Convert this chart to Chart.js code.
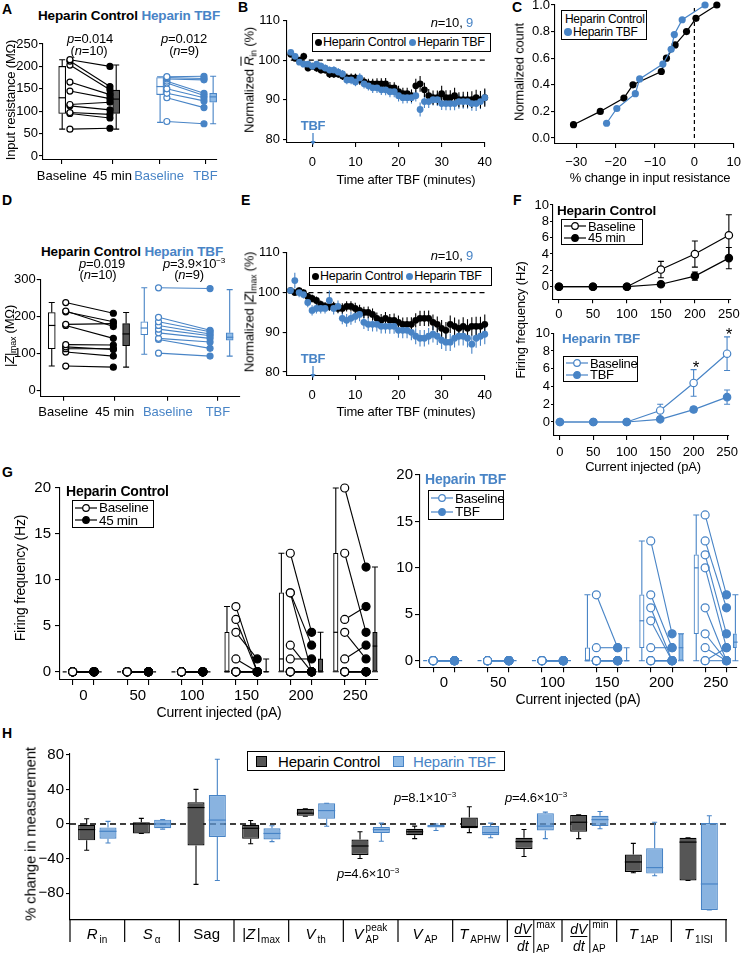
<!DOCTYPE html>
<html><head><meta charset="utf-8"><title>Heparin TBF figure</title>
<script src="https://cdn.jsdelivr.net/npm/chart.js@4.4.1/dist/chart.umd.min.js"></script>
<style>
html,body{margin:0;padding:0;background:#fff}
body{width:747px;height:954px;position:relative;overflow:hidden;font-family:'Liberation Sans',Arial,Helvetica,sans-serif;color:#000}
canvas{position:absolute}
.t{position:absolute;white-space:nowrap;line-height:1;font-size:13px;letter-spacing:-0.2px}
.t sub{font-size:0.68em;vertical-align:-0.3em;line-height:0}
.t sup{font-size:0.62em;vertical-align:0.55em;line-height:0}
.lg{position:absolute;border:1px solid #000;background:#fff;white-space:nowrap;line-height:1;box-sizing:border-box}
.lg .row{display:flex;align-items:center}
.dot{display:inline-block;border-radius:50%}
</style></head>
<body>
<script>
/* ================= DATA ================= */
/* Panel A : input resistance (MOhm) */
var catsAD = ['Baseline', '45 min', 'Baseline', 'TBF'];
var yTicksA = [0, 50, 100, 150, 200, 250];
var aCtrlBase = [215, 212, 203, 165, 145, 115, 112, 97, 95, 60];
var aCtrl45 = [200, 155, 148, 137, 128, 120, 103, 93, 85, 62];
var aTbfBase = [177, 175, 172, 167, 163, 150, 140, 130, 77];
var aTbfAfter = [178, 173, 170, 140, 135, 130, 123, 108, 72];
var aBoxes = [[60, 95, 130, 200, 215], [60, 95, 127, 147, 203], [75, 137, 155, 175, 177], [72, 120, 132, 140, 178]];

/* Panels B / E : time course */
var timeMin = [-5, -4, -3, -2, -1, 0, 1, 2, 3, 4, 5, 6, 7, 8, 9, 10, 11, 12, 13, 14, 15, 16, 17, 18, 19, 20, 21, 22, 23, 24, 25, 26, 27, 28, 29, 30, 31, 32, 33, 34, 35, 36, 37, 38, 39, 40];
var xTicksTime = [0, 10, 20, 30, 40];
var yTicksNorm = [80, 90, 100, 110];
var bCtrl = [101.5, 100.5, 100, 101, 98, 98.5, 98, 97.5, 97.5, 96.5, 96.5, 96.5, 96, 95.5, 95.5, 95.5, 95, 94.5, 94, 94, 94, 94, 94, 93, 93, 92, 91.5, 91.5, 91, 93.5, 94, 92.5, 91, 90.5, 90.5, 91.5, 90.5, 90.5, 91, 90, 90, 90, 90, 90.5, 90, 90.5];
var bCtrlErr = [0.7, 0.7, 0.8, 0.9, 0.8, 0.8, 0.9, 0.9, 0.9, 1, 1, 1, 1, 1.1, 1.1, 1.1, 1.2, 1.2, 1.3, 1.3, 1.4, 1.4, 1.5, 1.5, 1.4, 1.5, 1.5, 1.5, 1.6, 1.8, 2, 1.8, 1.7, 1.8, 1.8, 2, 1.9, 1.9, 2, 1.9, 2, 2, 2.1, 2, 2.2, 2.3];
var bTbf = [102, 101, 99.5, 99, 99, 98.5, 99, 98.5, 98, 97.5, 97.5, 97, 96.5, 95, 95, 94.5, 95.5, 94, 93.5, 93, 93, 92.5, 92.5, 92, 92, 91, 90.5, 90.5, 90.5, 91, 87.5, 89.5, 89.5, 90, 90, 89, 89, 89, 89, 89.5, 89.5, 89.5, 89, 89, 89.5, 90.5];
var bTbfErr = [0.6, 0.6, 0.7, 0.7, 0.8, 0.8, 0.8, 0.9, 0.9, 0.9, 1, 1, 1, 1.1, 1.1, 1.1, 1.2, 1.2, 1.2, 1.3, 1.3, 1.3, 1.4, 1.4, 1.4, 1.5, 1.5, 1.4, 1.5, 1.5, 1.8, 1.6, 1.6, 1.5, 1.6, 1.6, 1.7, 1.7, 1.7, 1.8, 1.8, 1.8, 1.8, 1.9, 1.9, 2];
var eCtrl = [100.5, 100, 100.5, 100, 99, 98.5, 98, 97, 96.5, 96.5, 96.5, 96, 96, 96.5, 96.5, 96, 95.5, 95, 95, 94.5, 93.5, 93, 93.5, 93, 93, 92.5, 92, 92, 92, 93, 93.5, 93.5, 93.5, 92.5, 92, 91, 90.5, 92, 91.5, 91, 91.5, 91, 91.5, 91.5, 91.5, 92];
var eCtrlErr = [0.6, 0.7, 0.8, 0.8, 0.9, 1, 1, 1, 1.1, 1.1, 1.2, 1.2, 1.3, 1.3, 1.3, 1.4, 1.4, 1.4, 1.5, 1.5, 1.5, 1.6, 1.6, 1.6, 1.7, 1.7, 1.7, 1.8, 1.8, 1.8, 1.9, 1.9, 2, 2, 2, 2.1, 2.1, 2.2, 2.2, 2.2, 2.3, 2.3, 2.3, 2.4, 2.4, 2.5];
var eTbf = [100.5, 103, 100, 99.5, 97.5, 95.5, 96, 96, 96, 98, 96, 96.5, 93.5, 93, 93.5, 94, 94.5, 92.5, 92, 92, 92, 91.5, 91.5, 91.5, 91.5, 90.5, 90.5, 90.5, 90, 89, 88.5, 88.5, 89, 89.5, 89, 88, 87.5, 87.5, 88.5, 89, 89, 88.5, 87, 88.5, 89, 89.5];
var eTbfErr = [0.8, 2, 1.2, 1, 1.2, 1.3, 1.3, 1.3, 1.3, 2.5, 1.5, 1.5, 1.5, 1.6, 1.6, 1.6, 1.7, 1.7, 1.7, 1.8, 1.8, 1.8, 1.8, 1.9, 1.9, 1.9, 2, 2, 2, 2, 2.1, 2.1, 2.1, 2.1, 2.2, 2.2, 2.2, 2.2, 2.3, 2.3, 2.3, 2.3, 2.4, 2.4, 2.4, 2.5];

/* Panel C : cumulative distribution */
var xTicksC = [-30, -20, -10, 0, 10];
var yTicksC = [0, 0.2, 0.4, 0.6, 0.8, 1];
var cCtrlX = [-30.7, -23.9, -17.9, -15.6, -8.4, -7.1, -4.9, -2, 0.4, 5.7];
var cCtrlY = [0.1, 0.2, 0.3, 0.4, 0.5, 0.6, 0.7, 0.8, 0.9, 1.0];
var cTbfX = [-22.3, -19.7, -15, -13.9, -8, -5.9, -5.1, -3.1, 2.7];
var cTbfY = [0.111, 0.222, 0.333, 0.444, 0.556, 0.667, 0.778, 0.889, 1.0];

/* Panel D : |Z|max (MOhm) */
var yTicksD = [0, 100, 200, 300];
var dCtrlBase = [237, 214, 212, 178, 175, 123, 117, 112, 103, 65];
var dCtrl45 = [208, 172, 185, 180, 140, 122, 110, 112, 92, 62];
var dTbfBase = [277, 197, 185, 175, 165, 155, 140, 137, 100];
var dTbfAfter = [275, 162, 158, 152, 147, 140, 130, 113, 92];
var dBoxes = [[65, 112, 175, 210, 237], [62, 120, 152, 180, 210], [97, 150, 168, 185, 277], [92, 135, 143, 155, 272]];

/* Panel F : firing frequency, mean and s.e.m. */
var currents = [0, 50, 100, 150, 200, 250];
var yTicksF = [0, 2, 4, 6, 8, 10];
var fCtrlBase = [0, 0, 0, 2.1, 4.0, 6.3];
var fCtrlBaseErr = [0, 0, 0, 1.0, 1.6, 2.5];
var fCtrl45 = [0, 0, 0, 0.3, 1.3, 3.5];
var fCtrl45Err = [0, 0, 0, 0.15, 0.5, 1.3];
var fTbfBase = [0, 0, 0, 1.3, 4.4, 7.7];
var fTbfBaseErr = [0, 0, 0, 0.7, 1.5, 1.9];
var fTbfAfter = [0, 0, 0, 0.3, 1.4, 2.8];
var fTbfAfterErr = [0, 0, 0, 0.1, 0.3, 0.8];

/* Panel G : individual cells per current step */
var yTicksG = [0, 5, 10, 15, 20];
var gCtrlBase = [[0,0,0,0,0,0,0,0,0,0], [0,0,0,0,0,0,0,0,0,0], [0,0,0,0,0,0,0,0,0,0],
  [7.1,5.7,4.3,1.4,0,0,0,0,0,0], [12.9,8.6,8.6,2.9,1.4,0,0,0,0,0], [20,12.9,5.7,4.3,1.4,0,0,0,0,0]];
var gCtrl45 = [[0,0,0,0,0,0,0,0,0,0], [0,0,0,0,0,0,0,0,0,0], [0,0,0,0,0,0,0,0,0,0],
  [0,0,1.4,0,0,0,0,0,0,0], [4.3,2.9,0,0,1.4,0,0,0,0,0], [11.4,4.3,7.1,1.4,2.9,0,0,0,0,0]];
var gTbfBase = [[0,0,0,0,0,0,0,0,0], [0,0,0,0,0,0,0,0,0], [0,0,0,0,0,0,0,0,0],
  [7.1,1.4,0,0,0,0,0,0,0], [12.9,7.1,5.7,4.3,1.4,0,0,0,0], [15.7,12.9,11.4,10,5.7,2.9,1.4,0,0]];
var gTbfAfter = [[0,0,0,0,0,0,0,0,0], [0,0,0,0,0,0,0,0,0], [0,0,0,0,0,0,0,0,0],
  [1.4,1.4,0,0,0,0,0,0,0], [2.9,1.4,0,0,1.4,0,0,0,0], [7.1,5.7,2.9,1.4,0,0,0,1.4,0]];
var gCtrlBoxBase = [[0,0,0,4.3,7.1], [0,0,1.4,8.6,12.9], [0,0,4.3,12.9,20]];
var gCtrlBoxAfter = [[0,0,0,0,1.4], [0,0,0,1.4,4.3], [0,0,2.8,4.3,11.4]];
var gTbfBoxBase = [[0,0,0,1.4,7.1], [0,1.4,4.3,7.1,12.9], [0,2.9,10,11.4,15.7]];
var gTbfBoxAfter = [[0,0,0,0,1.4], [0,0,1.4,2.9,2.9], [0,1.4,2,2.9,7.1]];

/* Panel H : % change, box stats [min, q1, median, q3, max] */
var hCats = ['Rin', 'S\u03b1', 'Sag', '|Z|max', 'Vth', 'VAP peak', 'VAP', 'TAPHW', 'dV/dt max', 'dV/dt min', 'T1AP', 'T1ISI'];
var yTicksH = [-80, -40, 0, 40, 80];
var hCtrlBox = [[-30.5,-19,-6.5,-1,6], [-11,-11,0,2,6.5], [-70,-25,19,25,40], [-23,-17,-5,-1,4], [9,9.5,12.5,17.5,17.5],
  [-40,-36,-25.5,-18,-9], [-17,-13,-9,-5.5,-2.5], [-10,-5,-3,7.5,20], [-37.7,-29,-20.5,-16,-6.5], [-17,-9,2,10.5,10.5],
  [-56.5,-55.5,-44,-35.5,-22.5], [-65.5,-65.5,-21,-16,-16]];
var hTbfBox = [[-22,-17,-8.5,-4,3], [-6,-5,0,5,5], [-65.5,-15,4.5,33.5,75], [-20.5,-18,-11,-5,-2], [-2.7,6,15.5,24,24],
  [-20,-10.5,-6.5,-3.5,1], [-7.5,-4,-2.5,-1,0], [-16,-13,-10,-2.5,1], [-17,-7.5,-2.5,12.5,13.7], [-5.5,-2.5,5,9.5,14.5],
  [-60,-57.5,-50.5,-28,2], [-99.5,-99.5,-69.5,1,9.5]];
var hTickLabels = [
  [{t:'R',it:1},{sub:'in'}], [{t:'S',it:1},{sub:'\u03b1'}], [{t:'Sag'}], [{t:'|'},{t:'Z',it:1},{t:'|'},{sub:'max'}],
  [{t:'V',it:1},{sub:'th'}], [{t:'V',it:1},{sup:'peak',sub:'AP'}], [{t:'V',it:1},{sub:'AP'}], [{t:'T',it:1},{sub:'APHW'}],
  'frac:max', 'frac:min', [{t:'T',it:1},{sub:'1AP'}], [{t:'T',it:1},{sub:'1ISI'}]];
</script>

<script>
/* ================= STYLE / HELPERS ================= */
var BLUE = '#4884c6', LBLUE = '#8fbbe7', HBLUE = 'rgba(98,153,214,0.75)', DGRAY = '#565656';
var FONT = "'Liberation Sans', Arial, Helvetica, sans-serif";
Chart.defaults.font.family = FONT;
Chart.defaults.font.size = 13;
Chart.defaults.color = '#000';
var LAY_A = {min: -0.338, max: 3.27, ticks: [0.05, 1.1, 2.07, 3.03], cBox: 0.06, cBase: 0.22, cAfter: 1.05, cBox2: 1.18, tBox: 2.09, tBase: 2.23, tAfter: 3.0, tBox2: 3.19};
var LAY_D = {min: -0.51, max: 3.55, ticks: [-0.05, 1.0, 2.08, 3.1], cBox: -0.285, cBase: 0, cAfter: 0.97, cBox2: 1.23, tBox: 1.6, tBase: 1.89, tAfter: 2.94, tBox2: 3.34};
var G_OFF = 9.8, G_BOFF = 18;

function fmtNum(v) { return v < 0 ? '\u2212' + Math.abs(v) : String(v); }

function drawRich(ctx, cx, by, parts, fs) {
  var sfs = 10;
  function f(it, s) { return (it ? 'italic ' : '') + s + 'px ' + FONT; }
  var ws = [];
  var total = 0;
  for (var i = 0; i < parts.length; i++) {
    var p = parts[i], w;
    if (p.sub !== undefined || p.sup !== undefined) {
      ctx.font = f(false, sfs);
      w = Math.max(p.sub ? ctx.measureText(p.sub).width : 0, p.sup ? ctx.measureText(p.sup).width : 0) + 1;
    } else {
      ctx.font = f(p.it, fs);
      w = ctx.measureText(p.t).width + (p.it ? 1.5 : 0);
    }
    ws.push(w); total += w;
  }
  var x = cx - total / 2;
  ctx.textAlign = 'left'; ctx.textBaseline = 'alphabetic'; ctx.fillStyle = '#000';
  for (var j = 0; j < parts.length; j++) {
    var q = parts[j];
    if (q.sub !== undefined || q.sup !== undefined) {
      ctx.font = f(false, sfs);
      if (q.sub) ctx.fillText(q.sub, x + 0.5, by + 4);
      if (q.sup) ctx.fillText(q.sup, x + 0.5, by - 8);
    } else {
      ctx.font = f(q.it, fs);
      ctx.fillText(q.t, x, by);
    }
    x += ws[j];
  }
}

function drawFrac(ctx, cx, by, sup) {
  var fs = 14, sfs = 10;
  ctx.font = 'italic ' + fs + 'px ' + FONT;
  var w1 = ctx.measureText('dV').width;
  ctx.font = sfs + 'px ' + FONT;
  var w2 = Math.max(ctx.measureText(sup).width, ctx.measureText('AP').width);
  var x = cx - (w1 + 5 + w2) / 2;
  ctx.fillStyle = '#000'; ctx.strokeStyle = '#000'; ctx.lineWidth = 1;
  ctx.font = 'italic ' + fs + 'px ' + FONT; ctx.textAlign = 'center'; ctx.textBaseline = 'alphabetic';
  ctx.fillText('dV', x + w1 / 2, by - 5);
  ctx.fillText('dt', x + w1 / 2, by + 12);
  ctx.beginPath();
  ctx.moveTo(x, by - 2.5); ctx.lineTo(x + w1, by - 2.5);
  ctx.moveTo(x + w1 + 2.5, by - 19); ctx.lineTo(x + w1 + 2.5, by + 14);
  ctx.stroke();
  ctx.font = sfs + 'px ' + FONT; ctx.textAlign = 'left';
  ctx.fillText(sup, x + w1 + 5, by - 11);
  ctx.fillText('AP', x + w1 + 5, by + 13);
}

var extras = {
  id: 'extras',
  beforeDatasetsDraw: function (chart) {
    var o = (chart.config.options.plugins || {}).extras || {};
    var ctx = chart.ctx, xs = chart.scales.x, ys = chart.scales.y, ca = chart.chartArea;
    ctx.save();
    (o.hlines || []).forEach(function (h) {
      var y = ys.getPixelForValue(h.y);
      var xa = (h.x0 !== undefined) ? xs.getPixelForValue(h.x0) : ca.left;
      var xb = (h.x1 !== undefined) ? xs.getPixelForValue(h.x1) : ca.right;
      ctx.beginPath(); ctx.setLineDash(h.dash || []); ctx.strokeStyle = h.color || '#000'; ctx.lineWidth = h.w || 1.2;
      ctx.moveTo(xa, y); ctx.lineTo(xb, y); ctx.stroke();
    });
    (o.vlines || []).forEach(function (v) {
      var x = xs.getPixelForValue(v.x);
      var ya = (v.y0 !== undefined) ? ys.getPixelForValue(v.y0) : ca.bottom;
      var yb = (v.y1 !== undefined) ? ys.getPixelForValue(v.y1) : ca.top;
      ctx.beginPath(); ctx.setLineDash(v.dash || []); ctx.strokeStyle = v.color || '#000'; ctx.lineWidth = v.w || 1.2;
      ctx.moveTo(x, ya); ctx.lineTo(x, yb); ctx.stroke();
    });
    ctx.setLineDash([]);
    chart.data.datasets.forEach(function (ds, di) {
      var meta = chart.getDatasetMeta(di);
      if (ds.err) {
        ctx.strokeStyle = ds.errColor || '#000'; ctx.lineWidth = ds.errW || 1.1;
        meta.data.forEach(function (el, i) {
          var e = ds.err[i];
          if (!e) return;
          var v = ds.data[i].y, ya = ys.getPixelForValue(v - e), yb = ys.getPixelForValue(v + e), x = el.x;
          ctx.beginPath(); ctx.moveTo(x, ya); ctx.lineTo(x, yb);
          if (ds.cap) {
            ctx.moveTo(x - ds.cap, ya); ctx.lineTo(x + ds.cap, ya);
            ctx.moveTo(x - ds.cap, yb); ctx.lineTo(x + ds.cap, yb);
          }
          ctx.stroke();
        });
      }
      if (ds.box) {
        ctx.lineWidth = ds.wW || 1.1;
        meta.data.forEach(function (el, i) {
          var b = ds.box[i], x = el.x, k = ds.cap || 2.5;
          ctx.strokeStyle = Array.isArray(ds.wColor) ? ds.wColor[i] : ds.wColor;
          var p0 = ys.getPixelForValue(b[0]), p1 = ys.getPixelForValue(b[1]), p3 = ys.getPixelForValue(b[3]), p4 = ys.getPixelForValue(b[4]);
          ctx.beginPath();
          ctx.moveTo(x, p0); ctx.lineTo(x, p1);
          ctx.moveTo(x, p3); ctx.lineTo(x, p4);
          ctx.moveTo(x - k, p0); ctx.lineTo(x + k, p0);
          ctx.moveTo(x - k, p4); ctx.lineTo(x + k, p4);
          ctx.stroke();
        });
      }
    });
    ctx.restore();
  },
  afterDatasetsDraw: function (chart) {
    var o = (chart.config.options.plugins || {}).extras || {};
    var ctx = chart.ctx, xs = chart.scales.x, ys = chart.scales.y, ca = chart.chartArea;
    ctx.save();
    chart.data.datasets.forEach(function (ds, di) {
      if (!ds.box) return;
      var meta = chart.getDatasetMeta(di);
      ctx.lineWidth = ds.medW || 1.2;
      meta.data.forEach(function (el, i) {
        ctx.strokeStyle = Array.isArray(ds.medColor) ? ds.medColor[i] : ds.medColor;
        var y = ys.getPixelForValue(ds.box[i][2]);
        ctx.beginPath(); ctx.moveTo(el.x - el.width / 2, y); ctx.lineTo(el.x + el.width / 2, y); ctx.stroke();
      });
    });
    if (o.rich) {
      var n = o.rich.length;
      var c0 = xs.getPixelForValue(0), c1 = xs.getPixelForValue(1), half = (c1 - c0) / 2;
      ctx.strokeStyle = '#000'; ctx.lineWidth = 1.2;
      for (var k = 0; k <= n; k++) {
        var bx = c0 - half + k * 2 * half;
        ctx.beginPath(); ctx.moveTo(bx, ca.bottom); ctx.lineTo(bx, ca.bottom + 22); ctx.stroke();
      }
      var by = ca.bottom + 19;
      o.rich.forEach(function (lab, i) {
        var cx = xs.getPixelForValue(i);
        if (typeof lab === 'string') drawFrac(ctx, cx, by, lab.split(':')[1]);
        else drawRich(ctx, cx, by, lab, 15);
      });
    }
    ctx.restore();
  }
};

function linAxis(min, max, ticks, o) {
  o = o || {};
  return {
    type: 'linear', min: min, max: max, offset: false,
    afterBuildTicks: function (s) { s.ticks = ticks.map(function (v) { return {value: v}; }); },
    ticks: {
      autoSkip: false, maxRotation: 0, minRotation: 0,
      padding: (o.pad !== undefined ? o.pad : 2),
      font: {size: o.fs || 13},
      color: o.color || '#000',
      callback: o.cb || function (v) { return fmtNum(v); }
    },
    grid: {
      display: true, drawOnChartArea: false, drawTicks: true,
      tickLength: (o.tl !== undefined ? o.tl : 4), color: '#000',
      tickColor: o.tickColor || '#000', lineWidth: 1.1, offset: false
    },
    border: {display: true, color: '#000', width: 1.1}
  };
}

function mk(area, m, cfg) {
  var x0 = area[0], y0 = area[1], x1 = area[2], y1 = area[3];
  var L = Math.floor(x0 - m.l), Tp = Math.floor(y0 - m.t);
  var yw = x0 - L, padT = y0 - Tp;
  var W = Math.ceil(x1 + m.r - L), Hh = Math.ceil(y1 + m.b - Tp);
  var padR = W - (x1 - L), xh = Hh - (y1 - Tp);
  var cv = document.createElement('canvas');
  cv.width = W; cv.height = Hh;
  cv.style.left = L + 'px'; cv.style.top = Tp + 'px';
  cv.style.width = W + 'px'; cv.style.height = Hh + 'px';
  document.body.appendChild(cv);
  var op = cfg.options;
  op.responsive = false; op.animation = false; op.devicePixelRatio = 1;
  op.layout = {padding: {left: 0, top: padT, right: padR, bottom: 0}};
  op.scales.x.afterFit = function (s) { s.height = xh; };
  op.scales.y.afterFit = function (s) { s.width = yw; };
  var pl = op.plugins || {};
  pl.legend = {display: false};
  pl.tooltip = {enabled: false};
  op.plugins = pl;
  cfg.plugins = [extras];
  return new Chart(cv, cfg);
}

function pairDs(x0, y0, x1, y1, col, r) {
  return {data: [{x: x0, y: y0}, {x: x1, y: y1}], showLine: true, borderColor: col, borderWidth: 1.1, pointRadius: r,
    pointBorderWidth: 1.2, pointBorderColor: col, pointBackgroundColor: ['#fff', col], clip: false};
}

function pairPanel(area, m, L, yMin, yMax, yTicks, cB, cA, tB, tA, boxes, opt) {
  var ds = [];
  cB.forEach(function (b, i) { ds.push(pairDs(L.cBase, b, L.cAfter, cA[i], '#000', opt.r)); });
  tB.forEach(function (b, i) { ds.push(pairDs(L.tBase, b, L.tAfter, tA[i], BLUE, opt.r)); });
  var cols = ['#000', '#000', BLUE, BLUE];
  var xsPos = [L.cBox, L.cBox2, L.tBox, L.tBox2];
  ds.push({type: 'bar', data: xsPos.map(function (x, i) { return {x: x, y: [boxes[i][1], boxes[i][3]]}; }), box: boxes,
    barThickness: opt.bw, borderWidth: 1.1, borderSkipped: false, backgroundColor: ['#fff', DGRAY, '#fff', LBLUE],
    borderColor: cols, wColor: cols, medColor: cols, cap: opt.cap});
  var yAx = linAxis(yMin, yMax, yTicks, {tl: 4, pad: 1});
  yAx.stacked = false;
  return mk(area, m, {type: 'scatter', data: {datasets: ds}, options: {scales: {
    x: linAxis(L.min, L.max, L.ticks, {pad: opt.xpad, cb: function (v, i) { return catsAD[i]; },
      color: function (c) { return c.index >= 2 ? BLUE : '#000'; }}),
    y: yAx}}});
}

function timePanel(area, m, ctrl, ctrlErr, tbf, tbfErr) {
  return mk(area, m, {type: 'scatter', data: {datasets: [
    {data: timeMin.map(function (x, i) { return {x: x, y: tbf[i]}; }), err: tbfErr, errColor: BLUE, pointRadius: 3.4,
      pointBackgroundColor: BLUE, pointBorderWidth: 0, clip: false},
    {data: timeMin.map(function (x, i) { return {x: x, y: ctrl[i]}; }), err: ctrlErr, errColor: '#000', pointRadius: 3.4,
      pointBackgroundColor: '#000', pointBorderWidth: 0, clip: false}
  ]}, options: {scales: {x: linAxis(-5.88, 40, xTicksTime, {pad: 8}), y: linAxis(79, 110, yTicksNorm, {pad: 3})},
    plugins: {extras: {hlines: [{y: 100, x0: -5, x1: 40, dash: [5, 4], w: 1.3}]}}}});
}

function firePanel(area, m, yMin, base, baseErr, after, afterErr, col, xpad) {
  return mk(area, m, {type: 'scatter', data: {datasets: [
    {data: currents.map(function (x, i) { return {x: x, y: after[i]}; }), err: afterErr, errColor: col, cap: 3, showLine: true,
      borderColor: col, borderWidth: 1.2, pointRadius: 3.7, pointBorderWidth: 1.2, pointBorderColor: col, pointBackgroundColor: col, clip: false},
    {data: currents.map(function (x, i) { return {x: x, y: base[i]}; }), err: baseErr, errColor: col, cap: 3, showLine: true,
      borderColor: col, borderWidth: 1.2, pointRadius: 3.7, pointBorderWidth: 1.2, pointBorderColor: col, pointBackgroundColor: '#fff', clip: false}
  ]}, options: {scales: {x: linAxis(-8.8, 252, currents, {pad: xpad}), y: linAxis(yMin, 10, yTicksF, {tl: 3, pad: 1})}}});
}

function gPanel(area, m, xmin, xmax, ymin, base, after, boxB, boxA, col, fillA, ypad) {
  var ds = [];
  currents.forEach(function (c, g) {
    base[g].forEach(function (b, i) { ds.push(pairDs(c - G_OFF, b, c + G_OFF, after[g][i], col, 4)); });
  });
  var bdata = [], bbox = [], bfill = [];
  [3, 4, 5].forEach(function (g, k) {
    bdata.push({x: currents[g] - G_BOFF, y: [boxB[k][1], boxB[k][3]]}); bbox.push(boxB[k]); bfill.push('#fff');
    bdata.push({x: currents[g] + G_BOFF, y: [boxA[k][1], boxA[k][3]]}); bbox.push(boxA[k]); bfill.push(fillA);
  });
  ds.push({type: 'bar', data: bdata, box: bbox, barThickness: 4.5, borderWidth: 1.1, borderSkipped: false, backgroundColor: bfill,
    borderColor: col, wColor: col, medColor: col, cap: 3});
  var xt = [];
  currents.forEach(function (c) { xt.push(c - G_OFF, c, c + G_OFF); });
  var zeroLines = [0, 1, 2].map(function (g) { return {y: 0, x0: currents[g] - 19, x1: currents[g] + 19, dash: [4, 3], color: col, w: 1.2}; });
  var yAx = linAxis(ymin, 20, yTicksG, {fs: 15, tl: 5, pad: ypad});
  yAx.stacked = false;
  return mk(area, m, {type: 'scatter', data: {datasets: ds}, options: {scales: {
    x: linAxis(xmin, xmax, xt, {fs: 15, tl: 5, pad: 2,
      cb: function (v, i) { return i % 3 === 1 ? String(currents[(i - 1) / 3]) : ''; },
      tickColor: function (c) { return c.index % 3 === 1 ? 'rgba(0,0,0,0)' : '#000'; }}),
    y: yAx},
    plugins: {extras: {hlines: zeroLines}}}});
}

function T(x, y, html, o) {
  o = o || {};
  var d = document.createElement('div');
  d.className = 't'; d.innerHTML = html;
  d.style.left = x + 'px'; d.style.top = y + 'px';
  if (o.fs) d.style.fontSize = o.fs + 'px';
  if (o.b) d.style.fontWeight = 'bold';
  if (o.c) d.style.color = o.c;
  if (o.ls !== undefined) d.style.letterSpacing = o.ls + 'px';
  var a = o.a || 'c';
  var tx = (a === 'l') ? '0' : ((a === 'r') ? '-100%' : '-50%');
  d.style.transform = o.rot ? 'translate(-50%,-50%) rotate(-90deg)' : 'translate(' + tx + ',-50%)';
  document.body.appendChild(d);
}
function legend(x, y, rows, o) {
  o = o || {};
  var d = document.createElement('div');
  d.className = 'lg';
  d.style.left = x + 'px'; d.style.top = y + 'px'; d.style.fontSize = (o.fs || 12) + 'px';
  d.style.padding = o.pad || '1px 2px';
  d.style.letterSpacing = (o.ls !== undefined ? o.ls : -0.3) + 'px';
  if (o.w) d.style.width = o.w + 'px';
  if (o.bw) d.style.borderWidth = o.bw + 'px';
  d.innerHTML = rows.map(function (r) { return '<div class="row" style="height:' + (o.rh || 13) + 'px">' + r + '</div>'; }).join('');
  document.body.appendChild(d);
}
function dot(c, s) {
  s = s || 7;
  return '<span class="dot" style="width:' + s + 'px;height:' + s + 'px;background:' + c + ';margin-right:1px"></span>';
}
function lineSym(c, filled) {
  return '<svg width="22" height="10" style="margin-right:2px;flex:none"><line x1="0" y1="5" x2="22" y2="5" stroke="' + c +
    '" stroke-width="1.2"/><circle cx="11" cy="5" r="3.3" fill="' + (filled ? c : '#fff') + '" stroke="' + c + '" stroke-width="1.2"/></svg>';
}
function arrow(x, y0, y1, c) {
  var h = y1 - y0, d = document.createElement('div');
  d.style.position = 'absolute'; d.style.left = (x - 4) + 'px'; d.style.top = y0 + 'px';
  d.style.width = '8px'; d.style.height = h + 'px';
  d.innerHTML = '<svg width="8" height="' + h + '"><line x1="4" y1="0" x2="4" y2="' + (h - 3) + '" stroke="' + c +
    '" stroke-width="1.3"/><path d="M1.3,' + (h - 4) + ' L4,' + h + ' L6.7,' + (h - 4) + ' Z" fill="' + c + '"/></svg>';
  document.body.appendChild(d);
}
</script>

<script>
pairPanel([43, 44, 217, 160], {l: 43, t: 10, r: 12, b: 24}, LAY_A, -8.9, 250, yTicksA, aCtrlBase, aCtrl45, aTbfBase, aTbfAfter, aBoxes, {r: 3, bw: 7, cap: 3, xpad: 4.5});
</script>
<script>
timePanel([287, 19, 490, 143], {l: 36, t: 9, r: 10, b: 26}, bCtrl, bCtrlErr, bTbf, bTbfErr);
</script>
<script>
(function () {
  var yAx = linAxis(-0.045, 1, yTicksC, {pad: 1, cb: function (v) { return v.toFixed(1); }});
  mk([555, 5, 740, 144], {l: 32, t: 10, r: 8, b: 26}, {type: 'scatter', data: {datasets: [
    {data: cTbfX.map(function (x, i) { return {x: x, y: cTbfY[i]}; }), showLine: true, borderColor: BLUE, borderWidth: 1.2,
      pointRadius: 3.6, pointBackgroundColor: BLUE, pointBorderWidth: 0, clip: false},
    {data: cCtrlX.map(function (x, i) { return {x: x, y: cCtrlY[i]}; }), showLine: true, borderColor: '#000', borderWidth: 1.2,
      pointRadius: 3.6, pointBackgroundColor: '#000', pointBorderWidth: 0, clip: false}
  ]}, options: {scales: {x: linAxis(-35.4, 10, xTicksC, {pad: 7}), y: yAx},
    plugins: {extras: {vlines: [{x: 0, y0: 0, y1: 1, dash: [4, 3], w: 1.2}]}}}});
})();
</script>
<script>
pairPanel([40.7, 279.3, 240, 396.7], {l: 40, t: 10, r: 10, b: 24}, LAY_D, -18, 300, yTicksD, dCtrlBase, dCtrl45, dTbfBase, dTbfAfter, dBoxes, {r: 3, bw: 7, cap: 3, xpad: 3.8});
</script>
<script>
timePanel([286.7, 251.7, 490, 376], {l: 36, t: 9, r: 10, b: 26}, eCtrl, eCtrlErr, eTbf, eTbfErr);
</script>
<script>
firePanel([553, 205, 731, 299.3], {l: 26, t: 9, r: 12, b: 22}, -1.54, fCtrlBase, fCtrlBaseErr, fCtrl45, fCtrl45Err, '#000', 3.2);
firePanel([554, 333.3, 731, 436], {l: 26, t: 9, r: 12, b: 22}, -1.58, fTbfBase, fTbfBaseErr, fTbfAfter, fTbfAfterErr, BLUE, 5);
</script>
<script>
gPanel([60, 485, 378, 680], {l: 46, t: 10, r: 6, b: 26}, -21.46, 270.8, -0.89, gCtrlBase, gCtrl45, gCtrlBoxBase, gCtrlBoxAfter, '#000', DGRAY, 4);
gPanel([420, 474, 736.7, 667.3], {l: 36, t: 10, r: 6, b: 26}, -21.9, 269.2, -0.71, gTbfBase, gTbfAfter, gTbfBoxBase, gTbfBoxAfter, BLUE, LBLUE, 2);
</script>
<script>
(function () {
  var yAx = linAxis(-111.2, 81, yTicksH, {fs: 15, tl: 4, pad: 2});
  yAx.stacked = false;
  mk([70, 751.7, 726, 920], {l: 52, t: 8, r: 6, b: 34}, {type: 'bar', data: {labels: hCats, datasets: [
    {data: hCtrlBox.map(function (b) { return [b[1], b[3]]; }), box: hCtrlBox, backgroundColor: DGRAY, borderColor: '#000',
      borderWidth: 1.2, borderSkipped: false, categoryPercentage: 0.78, barPercentage: 0.8, wColor: '#000', medColor: '#000', cap: 2.5},
    {data: hTbfBox.map(function (b) { return [b[1], b[3]]; }), box: hTbfBox, backgroundColor: HBLUE, borderColor: BLUE,
      borderWidth: 1.2, borderSkipped: false, categoryPercentage: 0.78, barPercentage: 0.8, wColor: BLUE, medColor: BLUE, cap: 2.5}
  ]}, options: {scales: {
    x: {type: 'category', offset: true, ticks: {display: false}, grid: {display: false, drawTicks: false}, border: {display: true, color: '#000', width: 1.2}},
    y: yAx},
    plugins: {extras: {hlines: [{y: 0, dash: [6, 4], w: 1.4}], rich: hTickLabels}}}});
})();
</script>

<script>
/* ================= TEXT OVERLAYS ================= */
[['A', 2, 9], ['B', 238, 7], ['C', 512, 7], ['D', 2, 200], ['E', 241, 200], ['F', 513, 200], ['G', 2, 472], ['H', 2, 733]]
  .forEach(function (a) { T(a[1], a[2], a[0], {b: 1, fs: 14, a: 'l', ls: 0}); });
var hdr = '<b>Heparin Control</b> <b style="color:' + BLUE + '">Heparin TBF</b>';
var nTxt = '<i>n</i>=10, <span style="color:' + BLUE + '">9</span>';
var dotLeg = dot('#000') + 'Heparin Control&nbsp;' + dot(BLUE) + 'Heparin TBF';
// A
T(38, 16, hdr, {a: 'l', fs: 13.5, ls: -0.15});
T(90, 38, '<i>p</i>=0.014'); T(89, 50, '(<i>n</i>=10)'); T(184, 38, '<i>p</i>=0.012'); T(184, 50, '(<i>n</i>=9)');
T(10, 100, 'Input resistance (M\u03a9)', {rot: 1});
// B
T(473, 22, nTxt, {a: 'r'});
legend(312, 33, [dotLeg], {fs: 12.5, rh: 15, w: 179});
T(313, 125, 'TBF', {b: 1, c: BLUE}); arrow(313, 131, 143, BLUE);
T(406, 179, 'Time after TBF (minutes)');
T(249, 80, 'Normalized <i style="text-decoration:overline">R</i><sub>in</sub> (%)', {rot: 1});
// C
legend(561, 10, [dot('#000', 8) + 'Heparin Control', dot(BLUE, 8) + 'Heparin TBF'], {fs: 12, rh: 13, w: 86});
T(650, 177, '% change in input resistance'); T(519, 72, 'Normalized count', {rot: 1});
// D
T(41, 252, hdr, {a: 'l', fs: 13.5, ls: -0.15});
T(102, 263, '<i>p</i>=0.019'); T(98, 274, '(<i>n</i>=10)'); T(194, 263, '<i>p</i>=3.9\u00d710<sup>\u22123</sup>'); T(189, 274, '(<i>n</i>=9)');
T(9, 336, '|<i>Z</i>|<sub>max</sub> (M\u03a9)', {rot: 1});
// E
T(473, 255, nTxt, {a: 'r'});
legend(309, 267, [dotLeg], {fs: 12.5, rh: 15, w: 183});
T(313, 358, 'TBF', {b: 1, c: BLUE}); arrow(313, 364, 376, BLUE);
T(406, 411, 'Time after TBF (minutes)');
T(249, 312, 'Normalized |<i>Z</i>|<sub>max</sub> (%)', {rot: 1});
// F
T(557, 211, 'Heparin Control', {b: 1, a: 'l', fs: 13.5});
legend(561, 219, [lineSym('#000', 0) + 'Baseline', lineSym('#000', 1) + '45 min'], {fs: 13, rh: 11.5, w: 82, pad: '0.5px 2px'});
T(562, 339, 'Heparin TBF', {b: 1, a: 'l', c: BLUE, fs: 13.5});
legend(563, 356, [lineSym(BLUE, 0) + 'Baseline', lineSym(BLUE, 1) + 'TBF'], {fs: 13, rh: 11.5, w: 75, pad: '0.5px 2px'});
T(520, 320, 'Firing frequency (Hz)', {rot: 1});
T(643, 466, 'Current injected (pA)');
T(696, 367, '*', {fs: 17}); T(729, 334, '*', {fs: 17});
// G
T(66, 491, 'Heparin Control', {b: 1, a: 'l', fs: 14});
legend(72, 500, [lineSym('#000', 0) + 'Baseline', lineSym('#000', 1) + '45 min'], {fs: 13.5, rh: 12.5, w: 82, pad: '0.5px 2px'});
T(425, 479, 'Heparin TBF', {b: 1, a: 'l', c: BLUE, fs: 14});
legend(428, 490, [lineSym(BLUE, 0) + 'Baseline', lineSym(BLUE, 1) + 'TBF'], {fs: 13.5, rh: 13.5, w: 76, pad: '0.5px 2px'});
T(20, 578, 'Firing frequency (Hz)', {rot: 1, fs: 14});
T(219, 712, 'Current injected (pA)', {fs: 14});
T(578, 699, 'Current injected (pA)', {fs: 14});
// H
T(30, 834, '% change in measurement', {rot: 1, fs: 15});
legend(247, 751, ['<span style="display:inline-block;width:9px;height:9px;background:' + DGRAY + ';border:1px solid #000;margin:0 11px 0 8px"></span>Heparin Control' +
  '<span style="display:inline-block;width:9px;height:9px;background:' + LBLUE + ';border:1px solid ' + BLUE + ';margin:0 9px 0 13px"></span>' +
  '<span style="color:' + BLUE + '">Heparin TBF</span>'], {fs: 15, rh: 18, w: 258, bw: 1.5, pad: '0', ls: -0.2});
T(368, 873, '<i>p</i>=4.6\u00d710<sup>\u22123</sup>');
T(425, 797, '<i>p</i>=8.1\u00d710<sup>\u22123</sup>');
T(536, 797, '<i>p</i>=4.6\u00d710<sup>\u22123</sup>');
</script>
</body></html>
